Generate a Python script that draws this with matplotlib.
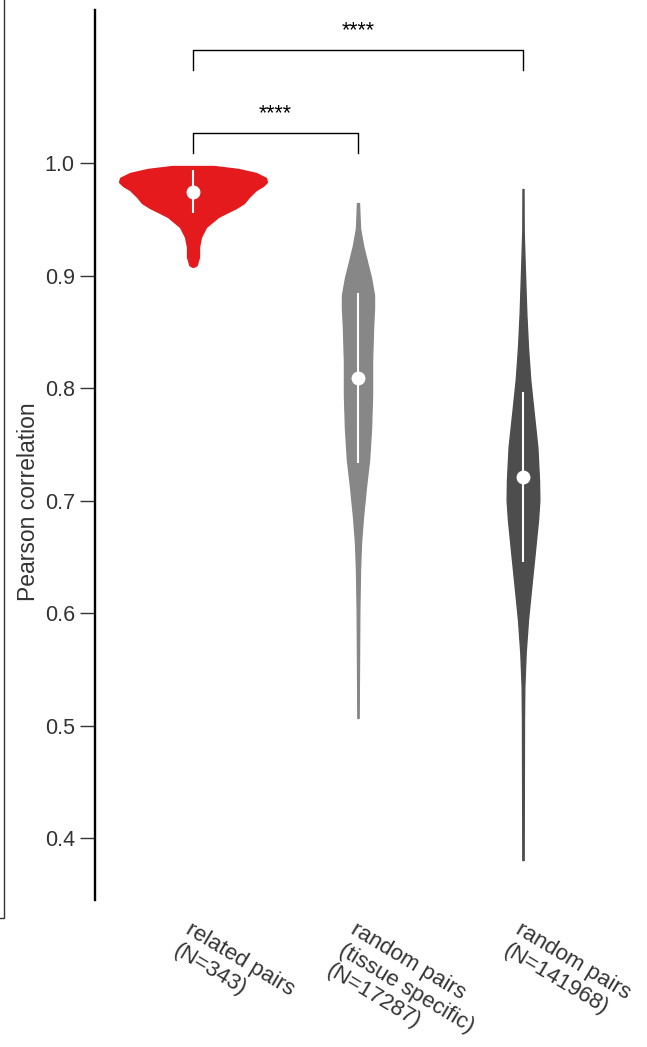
import matplotlib
matplotlib.use("Agg")
import matplotlib.pyplot as plt
import matplotlib.transforms as mtransforms
from matplotlib.lines import Line2D

plt.rcParams['font.family'] = ['Liberation Sans', 'DejaVu Sans']

# categories and colours
labels = ["related pairs\n(N=343)",
          "random pairs\n(tissue specific)\n(N=17287)",
          "random pairs\n(N=141968)"]
colors = ["#E41A1C", "#878787", "#4D4D4D"]

# violin outlines: correlation value -> half width (category units)
red_vals = [0.9973, 0.9947, 0.9911, 0.9867, 0.9831, 0.9796, 0.9760, 0.9698, 0.9644,
            0.9600, 0.9556, 0.9520, 0.9431, 0.9342, 0.9253, 0.9164, 0.9093, 0.9083, 0.9076]
red_hw = [0.127, 0.273, 0.382, 0.442, 0.448, 0.424, 0.382, 0.339, 0.309,
          0.261, 0.200, 0.152, 0.079, 0.048, 0.036, 0.036, 0.022, 0.012, 0.0]

gray_vals = [0.9644, 0.9422, 0.9271, 0.9120, 0.8978, 0.8827, 0.8711, 0.8533, 0.8231,
             0.7938, 0.7644, 0.7360, 0.7120, 0.6853, 0.6622, 0.6382, 0.6027, 0.5582, 0.5067]
gray_hw = [0.006, 0.012, 0.030, 0.055, 0.079, 0.097, 0.097, 0.091, 0.085,
           0.085, 0.079, 0.067, 0.048, 0.030, 0.018, 0.012, 0.008, 0.006, 0.004]

dark_vals = [0.9769, 0.9404, 0.9111, 0.8667, 0.8364, 0.8071, 0.7778, 0.7476, 0.7182,
             0.7004, 0.6827, 0.6533, 0.6231, 0.5938, 0.5644, 0.5342, 0.5049, 0.3804]
dark_hw = [0.003, 0.004, 0.010, 0.020, 0.030, 0.044, 0.065, 0.087, 0.097,
           0.099, 0.091, 0.071, 0.050, 0.030, 0.016, 0.008, 0.006, 0.004]

# inner summary: median and whisker span
medians = [0.9742, 0.8089, 0.7209]
whisk_lo = [0.9556, 0.7333, 0.6453]
whisk_hi = [0.9938, 0.8844, 0.7964]

# significance brackets: (left cat, right cat, height, leg bottom, text)
brackets = [(0, 1, 1.0267, 1.0089, "****"),
            (0, 2, 1.1004, 1.0827, "****")]

yticks = [0.4, 0.5, 0.6, 0.7, 0.8, 0.9, 1.0]

fig = plt.figure(figsize=(6.47, 10.47), dpi=100)
ax = fig.add_axes([95 / 647, 147 / 1047, 525 / 647, 890 / 1047])

shapes = [(red_vals, red_hw), (gray_vals, gray_hw), (dark_vals, dark_hw)]
for i, (vals, hw) in enumerate(shapes):
    left = [i - w for w in hw]
    right = [i + w for w in hw]
    ax.fill_betweenx(vals, left, right, facecolor=colors[i], edgecolor=colors[i],
                     linewidth=1.0, zorder=2)
    ax.plot([i, i], [whisk_lo[i], whisk_hi[i]], color='white', lw=1.5,
            solid_capstyle='butt', zorder=3)
    ax.plot(i, medians[i], 'o', color='white', markersize=10, mec='none', zorder=4)

for a, b, h, leg, txt in brackets:
    ax.plot([a, a, b, b], [leg, h, h, leg], color='black', lw=1.0, zorder=2)
    ax.text((a + b) / 2, h + 0.0125, txt, ha='center', va='baseline',
            fontsize=15.5, color='black')

ax.set_xlim(-0.594, 2.588)
ax.set_ylim(0.3449, 1.136)
ax.set_yticks(yticks)
ax.set_yticklabels(["%.1f" % v for v in yticks])
ax.set_xticks([])

for s in ['top', 'right', 'bottom']:
    ax.spines[s].set_visible(False)
ax.spines['left'].set_linewidth(1.7)
ax.spines['left'].set_color('black')
ax.tick_params(axis='y', length=11, width=1.0, color='#333333', pad=3.5,
               labelsize=15.5, labelcolor='#333333')
ax.set_ylabel("Pearson correlation", fontsize=16.5, color='#333333')
ax.yaxis.set_label_coords(-0.105, 0.447)

# rotated category labels under the axis
base = mtransforms.blended_transform_factory(ax.transData, ax.transAxes)
offset = mtransforms.ScaledTranslation(0 / 100, -19 / 100, fig.dpi_scale_trans)
for i, lab in enumerate(labels):
    ax.text(i, 0, lab, transform=base + offset, rotation=-31, rotation_mode='anchor',
            ha='left', va='top', multialignment='left', fontsize=16, color='#333333',
            linespacing=1.2)

# frame edge of the neighbouring panel at the far left
fig.add_artist(Line2D([3.5 / 647, 3.5 / 647, 0], [1.0, 1 - 918 / 1047, 1 - 918 / 1047],
                      transform=fig.transFigure, color='#333333', lw=1.0))

fig.savefig("out.png", dpi=100)
